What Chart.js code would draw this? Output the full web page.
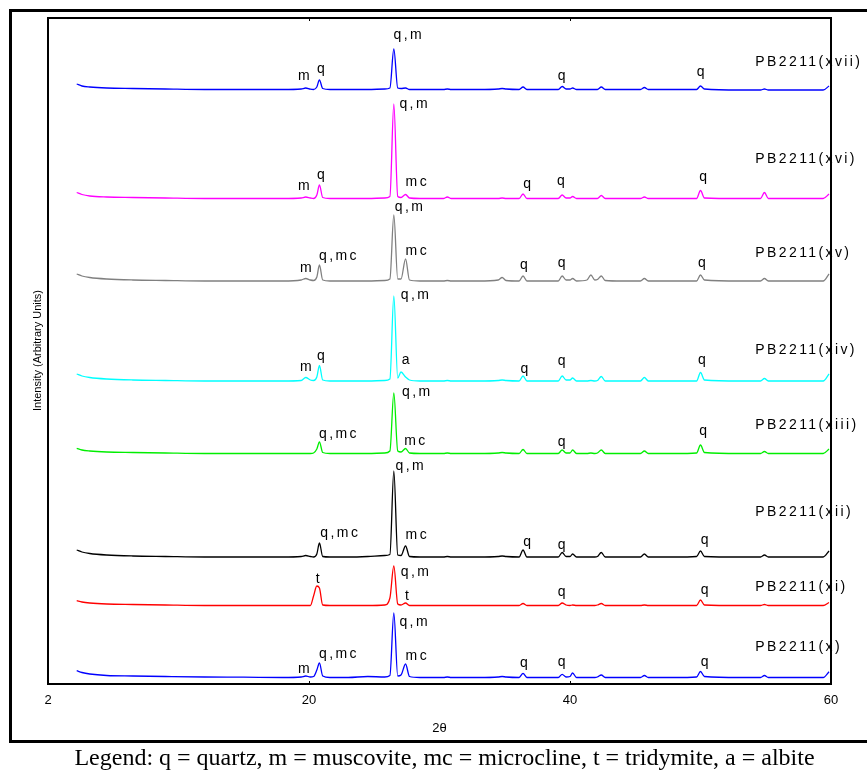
<!DOCTYPE html>
<html>
<head>
<meta charset="utf-8">
<script src="https://cdn.jsdelivr.net/npm/chart.js@4.4.1/dist/chart.umd.min.js"></script>
<style>
  html, body { margin: 0; padding: 0; background: #fff; }
  #wrap { position: relative; width: 867px; height: 771px; overflow: hidden; }
  #frame { position: absolute; left: 9px; top: 9px; width: 880px; height: 728px; border: 3px solid #000; pointer-events: none; }
  #key { position: absolute; left: 0; top: 745px; width: 889px; text-align: center; white-space: nowrap;
         font: 24px/24px "Liberation Serif", "Times New Roman", serif; color: #000; }
</style>
</head>
<body>
<div id="wrap">
  <canvas id="xrd" width="867" height="771"></canvas>
  <div id="frame"></div>
  <div id="key">Legend: q = quartz, m = muscovite, mc = microcline, t = tridymite, a = albite</div>
</div>
<script>
// 2-theta positions shared by all patterns
const twoTheta = [
  2.2, 2.6, 3.2, 4.5, 6.5, 9, 12, 15, 18,
  19.4, 19.75, 20.1, 20.35, 20.6, 20.8, 21.05, 21.6,
  23, 24.5, 25.8, 26.2, 26.5, 26.8, 27.05, 27.4, 27.7,
  28.5, 30.3, 30.6, 30.9, 33, 34.5, 34.8, 35.1,
  36.1, 36.4, 36.7, 38, 39.1, 39.4, 39.7, 40.0, 40.2, 40.5,
  41.3, 41.6, 41.9, 42.1, 42.4, 42.7, 44,
  45.4, 45.7, 46.0, 48, 49.7, 50.0, 50.3, 53,
  54.6, 54.9, 55.2, 57, 59.4, 59.85
];

// intensities (arbitrary units, already stacked)
const int_xvii = [
  600, 598, 597, 596, 595.5, 595, 594.5, 594.5, 594.5,
  595, 596, 594.8, 594.5, 597, 604, 595.5, 594.5,
  594.5, 594.5, 595, 596, 635, 596, 595.5, 596, 594.5,
  594.5, 594.5, 595, 594.5, 594.5, 595, 595.5, 595,
  594.5, 597, 594.5, 594.5, 594.5, 597.5, 595, 595, 596, 594.5,
  594.5, 594.5, 594.5, 594.5, 597, 594.5, 594.5,
  594.5, 596.5, 594.5, 594.5, 594.5, 598, 595, 594,
  594, 595, 594, 594, 594, 598
];
const int_xvi = [
  491.5, 489.5, 488, 487, 486.5, 486, 485.5, 485.5, 485.5,
  486, 487, 486, 485.5, 489, 499, 486.5, 485.5,
  485.5, 485.5, 486, 487.5, 580, 487.5, 486.5, 489.5, 486,
  485.5, 485.5, 487, 485.5, 485.5, 485.5, 486, 485.5,
  485.5, 490, 485.5, 485.5, 485.5, 489, 486, 486, 487.5, 485.5,
  485.5, 485.5, 485.5, 485.5, 488.5, 485.5, 485.5,
  485.5, 487, 485.5, 485.5, 485.5, 493.5, 486, 485.5,
  485.5, 491.5, 485.5, 485.5, 485.5, 490
];
const int_xv = [
  410, 408, 406.5, 405, 404, 403.5, 403, 403, 403,
  404, 405.5, 404, 403.5, 407, 419, 404, 403,
  403, 403, 403.5, 405, 469, 405, 405, 425, 404,
  403, 403, 403.5, 403, 403, 404, 406.5, 403.5,
  403, 408, 403, 403, 403, 408, 404, 404, 405.5, 403,
  404, 409, 404, 404.5, 408, 403.5, 403,
  403, 405.5, 403, 403, 403, 409, 404, 403,
  403, 405.5, 403, 403, 403, 410
];
const int_xiv = [
  310, 308, 306.5, 305, 304, 303.5, 303, 303, 303,
  303.5, 306.5, 304, 303.5, 307, 318.5, 304, 303,
  303, 303, 303.5, 305, 388, 306, 312, 307, 304,
  303, 303, 303.5, 303, 303, 303.5, 304, 303.5,
  303, 308, 303, 303, 303, 308, 304, 304, 306, 303,
  303, 303.5, 303, 303.5, 307.5, 303, 303,
  303, 306.5, 303, 303, 303, 311.5, 304, 303,
  303, 305.5, 303, 303, 303, 310
];
const int_xiii = [
  235.7, 234, 233, 232, 231.5, 231, 230.5, 230.5, 230.5,
  230.5, 230.5, 230.5, 231, 235, 242, 231.5, 230.5,
  230.5, 230.5, 231, 233, 291, 233, 232, 235.5, 231,
  230.5, 230.5, 231, 230.5, 230.5, 231, 231.5, 231,
  230.5, 234.5, 230.5, 230.5, 230.5, 234, 231, 231, 234, 230.5,
  230.5, 231, 230.5, 231, 234, 230.5, 230.5,
  230.5, 233, 230.5, 230.5, 231, 239, 231.5, 230.5,
  230.5, 232.5, 230.5, 230.5, 230.5, 235
];
const int_xii = [
  134, 132, 130.5, 129, 128, 127.5, 127, 127, 127,
  127.5, 128.5, 127.5, 127, 130, 141, 127.5, 127,
  127, 127.5, 128.5, 129.5, 213, 129, 128.5, 138, 127.5,
  127, 127, 127.5, 127, 127, 127.5, 128, 127.5,
  127, 134, 127, 127, 127, 131.5, 127.5, 127.5, 130, 127,
  127, 127, 127, 127.5, 131.5, 127, 127,
  127, 130, 127, 127, 127.5, 133, 127.5, 127,
  127, 129, 127, 127, 127, 133
];
const int_xi = [
  83.3, 82, 81, 80, 79.5, 79, 78.5, 78.5, 78.5,
  78.5, 78.5, 78.5, 88, 98, 96, 79, 78.5,
  78.5, 78.5, 79, 86, 118, 80, 79, 81, 78.5,
  78.5, 78.5, 78.5, 78.5, 78.5, 78.5, 78.5, 78.5,
  78.5, 80.5, 78.5, 78.5, 78.5, 81, 79, 78.5, 79, 78.5,
  78.5, 78.5, 78.5, 79, 80.5, 78.5, 78.5,
  78.5, 79, 78.5, 78.5, 78.5, 84, 79, 78.5,
  78.5, 79.5, 78.5, 78.5, 78.5, 81.5
];
const int_x = [
  13.3, 11.5, 10, 8.5, 8, 7.5, 7, 6.8, 6.5,
  7, 8, 7, 7.5, 14, 21, 8, 6.5,
  6.5, 7.5, 7, 8.5, 71, 8, 9, 20, 7.5,
  6.5, 6.5, 7, 6.5, 6.5, 7, 7.5, 7,
  6.5, 10.7, 6.5, 6.5, 6.5, 9.7, 7, 7.5, 11, 6.5,
  6.5, 6.5, 6.5, 7, 9, 6.5, 6.5,
  6.5, 8.5, 6.5, 6.5, 7, 12.5, 7.5, 6.5,
  6.5, 8.5, 6.5, 6.5, 6.5, 12.3
];

const sampleNames = ['PB2211(xvii)', 'PB2211(xvi)', 'PB2211(xv)', 'PB2211(xiv)',
                     'PB2211(xiii)', 'PB2211(xii)', 'PB2211(xi)', 'PB2211(x)'];
const sampleNameY = [618, 521, 427, 330, 255, 168, 93, 33];

// phase labels: [2theta, intensity, text]
const peaks_xvii = [[19.7, 604, 'm'], [21.0, 611, 'q'], [27.65, 645, 'q,m'], [39.45, 604, 'q'], [50.1, 608, 'q']];
const peaks_xvi = [[28.1, 576, 'q,m'], [19.7, 494, 'm'], [21.0, 505, 'q'], [28.3, 498, 'mc'], [36.8, 496, 'q'], [39.4, 499, 'q'], [50.3, 503, 'q']];
const peaks_xv = [[27.75, 473, 'q,m'], [28.3, 429, 'mc'], [22.3, 424, 'q,mc'], [19.85, 412, 'm'], [36.55, 415, 'q'], [39.45, 417, 'q'], [50.2, 417, 'q']];
const peaks_xiv = [[28.2, 385, 'q,m'], [19.85, 313, 'm'], [21.0, 324, 'q'], [27.5, 320, 'a'], [36.6, 311, 'q'], [39.45, 319, 'q'], [50.2, 320, 'q']];
const peaks_xiii = [[28.3, 288, 'q,m'], [22.3, 246, 'q,mc'], [28.2, 239, 'mc'], [39.45, 238, 'q'], [50.3, 249, 'q']];
const peaks_xii = [[27.8, 214, 'q,m'], [22.4, 147, 'q,mc'], [28.3, 145, 'mc'], [36.8, 138, 'q'], [39.45, 135, 'q'], [50.4, 140, 'q']];
const peaks_xi = [[20.75, 101, 't'], [28.2, 108, 'q,m'], [27.6, 84, 't'], [39.45, 88, 'q'], [50.4, 90, 'q']];
const peaks_x = [[28.1, 58, 'q,m'], [22.3, 26, 'q,mc'], [19.7, 11, 'm'], [28.3, 24, 'mc'], [36.55, 17, 'q'], [39.45, 18, 'q'], [50.4, 18, 'q']];

const allIntensities = [int_xvii, int_xvi, int_xv, int_xiv, int_xiii, int_xii, int_xi, int_x];
const allPeaks = [peaks_xvii, peaks_xvi, peaks_xv, peaks_xiv, peaks_xiii, peaks_xii, peaks_xi, peaks_x];
const lineColors = ['#0000ff', '#ff00ff', '#808080', '#00ffff', '#00ee00', '#000000', '#ff0000', '#0000ff'];

const labelFont = '14px "Liberation Sans", Arial, sans-serif';

// frame, inward ticks, phase labels and sample names
const decorations = {
    id: 'decorations',
    afterDraw(chart) {
        const ctx = chart.ctx;
        const area = chart.chartArea;
        const xs = chart.scales.x;
        const ys = chart.scales.y;
        ctx.save();
        ctx.strokeStyle = '#000';
        ctx.lineWidth = 2;
        ctx.strokeRect(area.left, area.top + 1, area.right - area.left, area.bottom - area.top - 1);
        ctx.lineWidth = 1;
        [20, 40].forEach(v => {
            const px = Math.round(xs.getPixelForValue(v)) + 0.5;
            ctx.beginPath();
            ctx.moveTo(px, area.top); ctx.lineTo(px, area.top + 4);
            ctx.moveTo(px, area.bottom); ctx.lineTo(px, area.bottom - 3);
            ctx.stroke();
        });

        ctx.font = labelFont;
        ctx.letterSpacing = '2.4px';
        ctx.fillStyle = '#000';
        ctx.textBaseline = 'alphabetic';
        ctx.textAlign = 'center';
        allPeaks.forEach(list => {
            list.forEach(([t, v, txt]) => {
                ctx.fillText(txt, xs.getPixelForValue(t), ys.getPixelForValue(v));
            });
        });
        ctx.textAlign = 'left';
        sampleNames.forEach((name, i) => {
            ctx.fillText(name, xs.getPixelForValue(54.2), ys.getPixelForValue(sampleNameY[i]));
        });
        ctx.restore();
    }
};

new Chart(document.getElementById('xrd'), {
    type: 'line',
    data: {
        datasets: allIntensities.map((vals, i) => ({
            label: sampleNames[i],
            data: twoTheta.map((t, j) => ({ x: t, y: vals[j] })),
            borderColor: lineColors[i],
            borderWidth: 1.3,
            pointRadius: 0,
            fill: false,
            cubicInterpolationMode: 'monotone'
        }))
    },
    options: {
        responsive: false,
        animation: false,
        devicePixelRatio: 1,
        layout: { padding: { left: 0, right: 36, top: 17, bottom: 28 } },
        plugins: {
            legend: { display: false },
            tooltip: { enabled: false }
        },
        scales: {
            x: {
                type: 'linear',
                min: 0,
                max: 60,
                grid: { display: false, drawTicks: false },
                border: { display: false },
                ticks: {
                    stepSize: 20,
                    padding: 9,
                    color: '#000',
                    font: { family: '"Liberation Sans", Arial, sans-serif', size: 13 },
                    maxRotation: 0,
                    callback: v => (v === 0 ? '2' : String(v))
                },
                title: {
                    display: true,
                    text: '2θ',
                    color: '#000',
                    font: { family: '"Liberation Sans", Arial, sans-serif', size: 13 },
                    padding: { top: 0, bottom: 7 }
                },
                afterFit(scale) { scale.height = 59; }
            },
            y: {
                min: 0,
                max: 667,
                grid: { display: false, drawTicks: false },
                border: { display: false },
                ticks: { display: false },
                title: {
                    display: true,
                    text: 'Intensity (Arbitrary Units)',
                    color: '#000',
                    font: { family: '"Liberation Sans", Arial, sans-serif', size: 11 },
                    padding: { top: 31, bottom: 0 }
                },
                afterFit(scale) { scale.width = 48; }
            }
        }
    },
    plugins: [decorations]
});
</script>
</body>
</html>
